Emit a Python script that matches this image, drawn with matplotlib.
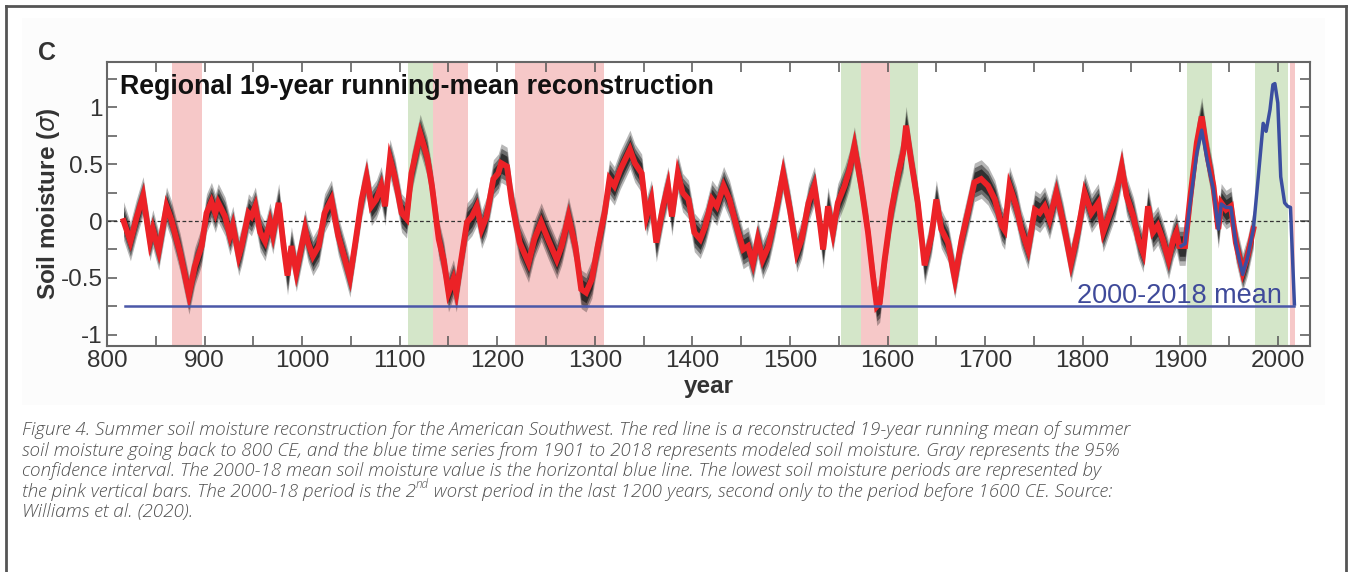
import matplotlib
matplotlib.use("Agg")
import numpy as np
import matplotlib.pyplot as plt
from matplotlib.ticker import MultipleLocator, FuncFormatter
from matplotlib.lines import Line2D
from matplotlib.patches import Rectangle

plt.rcParams['font.family'] = ['Liberation Sans', 'DejaVu Sans']
plt.rcParams['axes.unicode_minus'] = False

# ---- reconstructed 19-yr running mean (red) ----
recon_year = [817, 824, 830, 837, 844, 847, 853, 861, 866, 875, 884, 890, 897,
              902, 907, 911, 914, 921, 926, 929, 935, 938, 945, 948, 952, 957,
              962, 967, 970, 976, 981, 985, 989, 994, 1003, 1006, 1011, 1017,
              1023, 1030, 1037, 1044, 1049, 1054, 1061, 1066, 1071, 1076, 1081,
              1085, 1090, 1095, 1102, 1107, 1112, 1121, 1128, 1133, 1140, 1145,
              1150, 1155, 1158, 1163, 1169, 1174, 1179, 1184, 1189, 1196, 1201,
              1204, 1210, 1215, 1223, 1232, 1238, 1245, 1252, 1261, 1266, 1273,
              1280, 1286, 1291, 1297, 1303, 1310, 1315, 1320, 1326, 1331, 1336,
              1341, 1348, 1353, 1358, 1363, 1370, 1375, 1379, 1385, 1390, 1396,
              1402, 1408, 1413, 1420, 1425, 1432, 1438, 1445, 1452, 1457, 1462,
              1467, 1472, 1478, 1484, 1493, 1500, 1507, 1512, 1519, 1525, 1531,
              1534, 1539, 1544, 1549, 1556, 1561, 1566, 1573, 1580, 1585, 1589,
              1592, 1597, 1604, 1611, 1616, 1619, 1624, 1631, 1638, 1645, 1650,
              1655, 1662, 1669, 1676, 1683, 1689, 1696, 1703, 1710, 1717, 1720,
              1725, 1732, 1737, 1744, 1751, 1756, 1761, 1766, 1773, 1780, 1788,
              1795, 1802, 1809, 1816, 1821, 1828, 1833, 1840, 1845, 1852, 1857,
              1862, 1867, 1872, 1877, 1882, 1888, 1893, 1896, 1899, 1905, 1910,
              1917, 1922, 1928, 1934, 1939, 1942, 1947, 1952, 1957, 1964, 1969,
              1975]
recon_val = [0.00, -0.18, 0.02, 0.22, -0.18, -0.07, -0.26, 0.13, 0.01, -0.28,
             -0.65, -0.40, -0.22, 0.07, 0.17, 0.07, 0.16, 0.04, -0.13, -0.04,
             -0.31, -0.22, 0.07, 0.04, 0.13, -0.10, -0.18, -0.01, -0.12, 0.16,
             -0.22, -0.48, -0.22, -0.45, -0.07, -0.19, -0.31, -0.22, 0.07, 0.19,
             -0.13, -0.34, -0.50, -0.22, 0.19, 0.39, 0.13, 0.19, 0.31, 0.13,
             0.55, 0.39, 0.07, 0.02, 0.42, 0.77, 0.57, 0.31, -0.16, -0.34,
             -0.63, -0.51, -0.63, -0.34, -0.01, 0.04, 0.13, -0.07, 0.04, 0.37,
             0.42, 0.51, 0.48, 0.16, -0.19, -0.37, -0.16, -0.01, -0.16, -0.34,
             -0.22, 0.04, -0.22, -0.60, -0.63, -0.51, -0.22, 0.07, 0.37, 0.31,
             0.45, 0.54, 0.63, 0.51, 0.42, 0.04, 0.19, -0.19, 0.13, 0.31,
             0.04, 0.42, 0.25, 0.19, -0.10, -0.16, -0.05, 0.19, 0.13, 0.31,
             0.19, -0.04, -0.25, -0.22, -0.37, -0.16, -0.34, -0.22, 0.01, 0.42,
             0.10, -0.28, -0.16, 0.16, 0.31, -0.04, -0.25, 0.13, -0.10, 0.16,
             0.31, 0.45, 0.66, 0.31, -0.10, -0.48, -0.75, -0.72, -0.34, 0.10,
             0.42, 0.60, 0.84, 0.54, 0.16, -0.39, -0.13, 0.19, -0.07, -0.19,
             -0.51, -0.16, 0.10, 0.34, 0.37, 0.31, 0.19, -0.04, -0.08, 0.31,
             0.13, -0.07, -0.25, 0.10, 0.07, 0.13, 0.01, 0.25, -0.01, -0.37,
             -0.10, 0.25, 0.07, 0.16, -0.10, 0.07, 0.19, 0.48, 0.22, 0.04,
             -0.16, -0.28, 0.13, -0.10, -0.04, -0.16, -0.34, -0.16, -0.10, -0.22,
             -0.22, 0.19, 0.69, 0.92, 0.57, 0.31, -0.07, 0.16, 0.10, 0.13,
             -0.19, -0.45, -0.31, -0.07]

# ---- modeled soil moisture 1901-2018 (blue) ----
model_year = [1901, 1905, 1910, 1917, 1922, 1928, 1934, 1939, 1942, 1947, 1952,
              1957, 1964, 1969, 1975, 1980, 1985, 1988, 1992, 1995, 1997, 2000,
              2003, 2007, 2010, 2013, 2017]
model_val = [-0.22, -0.20, 0.15, 0.60, 0.80, 0.52, 0.28, -0.07, 0.15, 0.12, 0.12,
             -0.20, -0.47, -0.32, -0.07, 0.39, 0.86, 0.79, 0.98, 1.20, 1.21, 1.04,
             0.39, 0.16, 0.13, 0.12, -0.73]

mean_2000_2018 = -0.745
mean_years = [818, 2017]

dry_spans = [(867, 897), (1134, 1170), (1218, 1309), (1573, 1603), (2013, 2018)]
wet_spans = [(1108, 1134), (1552, 1573), (1603, 1631), (1907, 1933), (1977, 2010)]

caption = [
    "Figure 4. Summer soil moisture reconstruction for the American Southwest. "
    "The red line is a reconstructed 19-year running mean of summer",
    "soil moisture going back to 800 CE, and the blue time series from 1901 to 2018 "
    "represents modeled soil moisture. Gray represents the 95%",
    "confidence interval. The 2000-18 mean soil moisture value is the horizontal "
    "blue line. The lowest soil moisture periods are represented by",
    ("the pink vertical bars. The 2000-18 period is the 2", "nd",
     " worst period in the last 1200 years, second only to the period before 1600 CE. Source:"),
    "Williams et al. (2020).",
]

W, H = 1348, 572
fig = plt.figure(figsize=(W / 100, H / 100), dpi=100)

# outer frame + light panel background
fig.add_artist(Rectangle((22 / W, 1 - 405 / H), (1325 - 22) / W, (405 - 18) / H,
                         transform=fig.transFigure, facecolor='#fcfcfc',
                         edgecolor='none', zorder=0))
frame = dict(transform=fig.transFigure, color='#555555', lw=2.0)
fig.add_artist(Line2D([5.5 / W, 5.5 / W], [0, 1 - 6 / H], **frame))
fig.add_artist(Line2D([5.5 / W, 1346 / W], [1 - 6 / H, 1 - 6 / H], **frame))
fig.add_artist(Line2D([1346 / W, 1346 / W], [0, 1 - 6 / H], **frame))

ax = fig.add_axes([107 / W, 1 - 346 / H, (1310 - 107) / W, (346 - 62) / H])
ax.set_facecolor('white')

for a, b in dry_spans:
    ax.axvspan(a, b, color='#f6c8c8', lw=0, zorder=1)
for a, b in wet_spans:
    ax.axvspan(a, b, color='#d4e6c9', lw=0, zorder=1)

ax.axhline(0, color='#333333', lw=0.9, ls=(0, (3, 2)), zorder=2)

yr = np.array(recon_year)
v = np.array(recon_val)
# 95% confidence band, shaded darker toward the centre
for hw, al in [(0.17, 0.3), (0.13, 0.45), (0.09, 0.65)]:
    ax.fill_between(yr, v - hw, v + hw, color='#111111', alpha=al, lw=0, zorder=3)
ax.plot(yr, v, color='#ec2227', lw=4.2, zorder=4, solid_joinstyle='miter')

my = np.array(model_year)
mv = np.array(model_val)
ax.plot(my, mv, color='#3b4ea0', lw=2.5, zorder=5)

ax.plot(mean_years, [mean_2000_2018, mean_2000_2018], color='#4b58a8', lw=1.8, zorder=5)
ax.text(2004, mean_2000_2018 + 0.025, '2000-2018 mean', color='#3f4a9a',
        fontsize=19.5, ha='right', va='baseline', zorder=6)

ax.text(0.011, 0.912, 'Regional 19-year running-mean reconstruction',
        transform=ax.transAxes, fontsize=19.3, fontweight='bold',
        color='#111111', ha='left', va='center', zorder=6)

ax.set_xlim(800, 2033)
ax.set_ylim(-1.1, 1.4)
ax.xaxis.set_major_locator(MultipleLocator(100))
ax.xaxis.set_minor_locator(MultipleLocator(50))
ax.yaxis.set_major_locator(MultipleLocator(0.5))
ax.yaxis.set_minor_locator(MultipleLocator(0.25))
ax.yaxis.set_major_formatter(FuncFormatter(lambda y, _: '%g' % y))
ax.tick_params(which='both', direction='in', top=True, right=True,
               length=7, width=1.1, color='#555555')
ax.tick_params(which='major', labelsize=17.5, labelcolor='#333333', pad=3)
for s in ax.spines.values():
    s.set_color('#666666')
    s.set_linewidth(1.5)

ax.set_xlabel('year', fontsize=17.5, fontweight='bold', color='#333333', labelpad=2)
ax.set_ylabel(r'Soil moisture ($\sigma$)', fontsize=17.5, fontweight='bold',
              color='#333333', labelpad=-1)

fig.text(47 / W, 1 - 53 / H, 'C', fontsize=18, fontweight='bold', color='#333333',
         ha='center', va='center')

# caption
cap_font = dict(family=['Open Sans', 'DejaVu Sans'], style='italic', weight='light',
                color='#505050', fontsize=13.6)
line_y = [430, 451, 471, 492, 512]
for text, y in zip(caption, line_y):
    if isinstance(text, tuple):
        t1 = fig.text(22 / W, 1 - y / H, text[0], va='center', ha='left', **cap_font)
        sup = dict(cap_font, fontsize=8.5)
        t2 = ax.annotate(text[1], xy=(1, 0.55), xycoords=t1, va='bottom', ha='left',
                         annotation_clip=False, **sup)
        ax.annotate(text[2], xy=(1, 0), xycoords=(t2, t1), va='bottom', ha='left',
                    annotation_clip=False, **cap_font)
    else:
        fig.text(22 / W, 1 - y / H, text, va='center', ha='left', **cap_font)

fig.savefig('out.png', dpi=100, facecolor='white')
